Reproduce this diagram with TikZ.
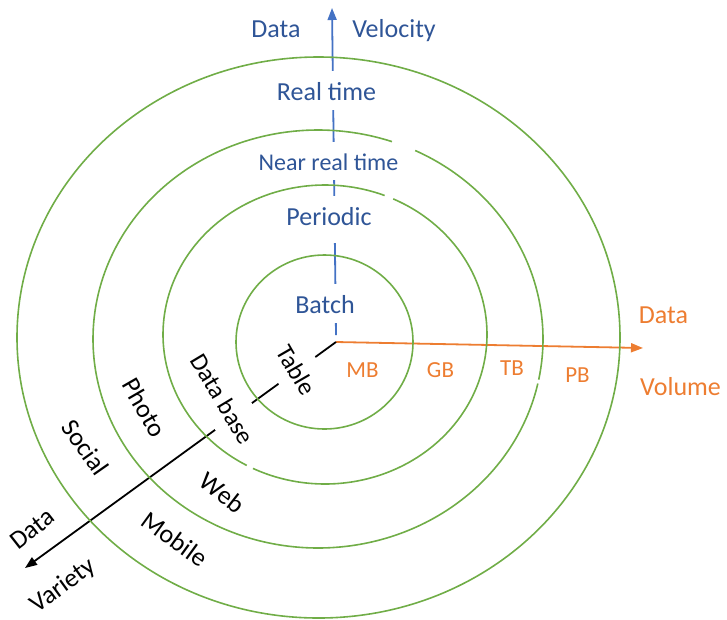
\documentclass[tikz,border=0pt]{standalone}
\usepackage{fontspec}
\setmainfont{Carlito}
\usetikzlibrary{arrows.meta}
\definecolor{ringgreen}{HTML}{70AD47}
\definecolor{velblue}{HTML}{2F5597}
\definecolor{axisblue}{HTML}{4472C4}
\definecolor{volorange}{HTML}{ED7D31}
\begin{document}
\begin{tikzpicture}[x=1pt,y=-1pt,
  ring/.style={draw=ringgreen, line width=1.6pt},
  axisline/.style={line width=1.8pt, -{Triangle[length=12pt,width=9pt]}},
  vellab/.style={text=velblue, font=\fontsize{26}{30}\selectfont, anchor=base,
    inner xsep=2pt, inner ysep=7.5pt, text height=22pt, text depth=2pt},
  velbox/.style={vellab, fill=white},
  vollab/.style={text=volorange, font=\fontsize{23}{28}\selectfont, anchor=base, inner sep=0pt},
  varlab/.style={text=black, font=\fontsize{26}{31}\selectfont, inner xsep=0pt, inner ysep=1pt,
    text height=18.5pt, text depth=0pt},
  varbox/.style={varlab, fill=white, font=\fontsize{25}{30}\selectfont, inner ysep=13.5pt, text height=18pt}
]
\useasboundingbox (0,0) rectangle (727,619);

% axis end points
\coordinate (O) at (336,342);
\coordinate (vstart) at (336,335);
\coordinate (vtip) at (332,8);
\coordinate (htip) at (643,348);
\coordinate (dtip) at (25,568);

% axes
\draw[axisline, draw=axisblue, fill=axisblue] (vstart) -- (vtip);
\draw[axisline, draw=volorange, fill=volorange] (O) -- (htip);
\draw[axisline, draw=black, fill=black] (O) -- (dtip);

% labels that sit on the axes (white boxes cut the lines)
\node[velbox] (rt) at (326.5,100) {Real time};
\node[velbox, font=\fontsize{24}{28}\selectfont, text height=20.4pt] (nrt) at (328.5,170) {Near real time};
\node[velbox, text depth=10.4pt] (per) at (329,225) {Periodic};
\node[velbox] (bat) at (325,313) {Batch};
\node[varbox, rotate=-60] (tab) at (296.7,370) {Table};
\node[varbox, rotate=-59] (dbs) at (223,399) {Data base};

% rings
\draw[ring] (324.5,342) ellipse [x radius=88.5pt, y radius=87pt];
\draw[ring] plot[domain=-65.1:116.4, samples=150, smooth] ({325+162*cos(\x)},{334.5+149.5*sin(\x)});
\draw[ring] plot[domain=118.9:291.6, samples=150, smooth] ({325+162*cos(\x)},{334.5+149.5*sin(\x)});
\draw[ring] plot[domain=-64.4:11.2, samples=120, smooth] ({318+225*cos(\x)},{339+209*sin(\x)});
\draw[ring] plot[domain=12.3:289.2, samples=200, smooth] ({318+225*cos(\x)},{339+209*sin(\x)});
\draw[ring] (318.5,337.5) ellipse [x radius=301.5pt, y radius=280.5pt];

% velocity title
\node[vellab] (vdata) at (276,37) {Data};
\node[vellab] (vvel) at (394,37) {Velocity};

% volume labels
\node[vollab] (mb) at (362.5,377) {MB};
\node[vollab] (gb) at (440.5,377) {GB};
\node[vollab] (tb) at (512,375) {TB};
\node[vollab] (pb) at (577.5,382) {PB};
\node[vollab, font=\fontsize{26}{30}\selectfont] (hdata) at (663.5,323) {Data};
\node[vollab, font=\fontsize{26}{30}\selectfont, anchor=base west] (hvol) at (640,395) {Volume};

% variety labels
\node[varlab, rotate=-60] (pho) at (145,407.5) {Photo};
\node[varlab, rotate=-55] (soc) at (86,447) {Social};
\node[varlab, rotate=-38] (web) at (222.5,492.5) {Web};
\node[varlab, rotate=-36] (mob) at (175,539) {Mobile};
\node[varlab, rotate=38] (ddata) at (31.7,528) {Data};
\node[varlab, rotate=36] (dvar) at (62,584) {Variety};
\end{tikzpicture}
\end{document}
